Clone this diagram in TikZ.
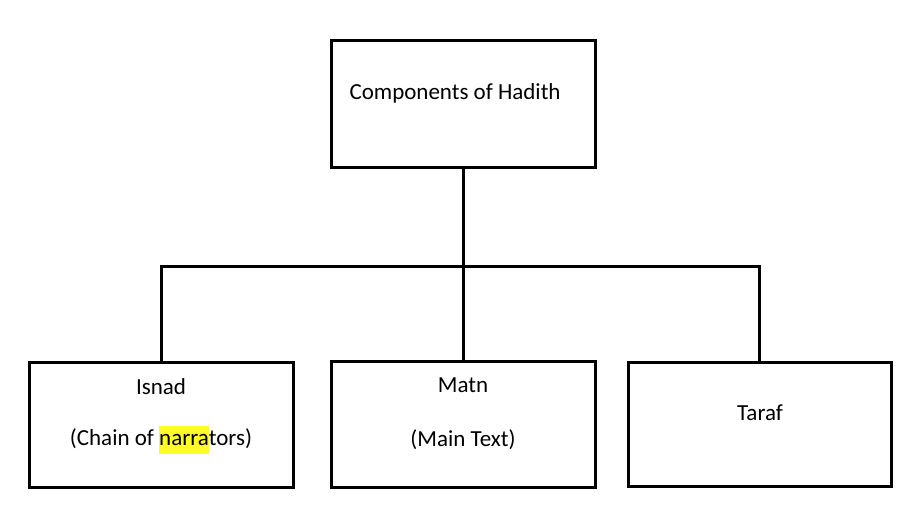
\documentclass[tikz,border=0pt]{standalone}
\usepackage{fontspec}
\setmainfont{Carlito}
\definecolor{hlyellow}{RGB}{255,250,40}

\begin{document}
\begin{tikzpicture}[x=0.5pt, y=-0.5pt, line width=1.5pt,
    box/.style={draw, minimum width=132pt, minimum height=63pt, inner sep=0pt},
    txt/.style={font=\fontsize{11.5}{14}\selectfont, inner sep=0pt}]
    \useasboundingbox (0,0) rectangle (908,504);
    % boxes
    \node[box, minimum height=63.5pt] (hadith) at (463,103.5) {};
    \node[box, minimum height=62.5pt] (isnad) at (161,424.5) {};
    \node[box] (matn) at (463,424) {};
    \node[box, minimum width=131.5pt, minimum height=62pt] (taraf) at (759.5,424) {};
    % texts
    \node[txt, anchor=west] (hadithT) at (348,93) {Components of Hadith};
    \node[txt] (isnadT) at (161,387) {Isnad};
    \node[txt] (isnadS) at (161,440) {(Chain of {\setlength{\fboxsep}{0pt}\colorbox{hlyellow}{\strut narra}}tors)};
    \node[txt] (matnT) at (463,385) {Matn};
    \node[txt] (matnS) at (463,440) {(Main Text)};
    \node[txt] (tarafT) at (760,413) {Taraf};
    % connectors
    \coordinate (bus) at (0,266);
    \draw (hadith.south) -- (matn.north);
    \draw (isnad.north) -- (isnad.north |- bus) -- (taraf.north |- bus) -- (taraf.north);
\end{tikzpicture}
\end{document}
